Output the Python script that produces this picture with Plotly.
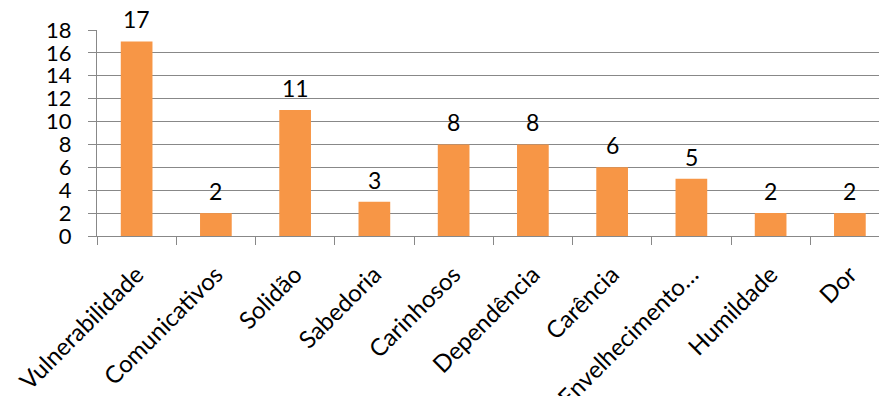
import plotly.graph_objects as go

categories = ["Vulnerabilidade", "Comunicativos", "Solidão", "Sabedoria", "Carinhosos",
              "Dependência", "Carência", "Envelhecimento…", "Humildade", "Dor"]
values = [17, 2, 11, 3, 8, 8, 6, 5, 2, 2]
y_ticks = list(range(0, 19, 2))

FONT = "Lato, Open Sans, sans-serif"
GRID = "#888888"

fig = go.Figure(
    go.Bar(
        x=categories,
        y=values,
        width=0.4,
        marker=dict(color="#F79646", line=dict(width=0)),
        cliponaxis=False,
    )
)

# value labels sit a little above each bar
for cat, val in zip(categories, values):
    fig.add_annotation(
        x=cat, y=val, text=str(val), showarrow=False,
        yanchor="bottom", yshift=6,
        font=dict(family=FONT, size=23, color="black"),
    )

fig.update_layout(
    width=879,
    height=396,
    margin=dict(l=97, r=0, t=30, b=160, autoexpand=False),
    paper_bgcolor="white",
    plot_bgcolor="white",
    showlegend=False,
    font=dict(family=FONT, size=22, color="black"),
    xaxis=dict(
        type="category",
        automargin=False,
        range=[-0.5, -0.5 + (879 - 97) / 79.25],
        tickangle=-45,
        tickson="boundaries",
        ticks="outside",
        ticklen=8,
        tickcolor=GRID,
        showline=True,
        linecolor=GRID,
        linewidth=1,
        showgrid=False,
        ticklabelstandoff=14,
        tickfont=dict(family=FONT, size=24, color="black"),
    ),
    yaxis=dict(
        automargin=False,
        range=[0, 18],
        tickvals=y_ticks,
        ticks="outside",
        ticklen=8,
        tickcolor=GRID,
        showline=True,
        linecolor=GRID,
        linewidth=1,
        showgrid=True,
        gridcolor=GRID,
        gridwidth=1,
        zeroline=False,
        ticklabelstandoff=12,
        tickfont=dict(family=FONT, size=22, color="black"),
    ),
)

fig.write_html("out.html")
